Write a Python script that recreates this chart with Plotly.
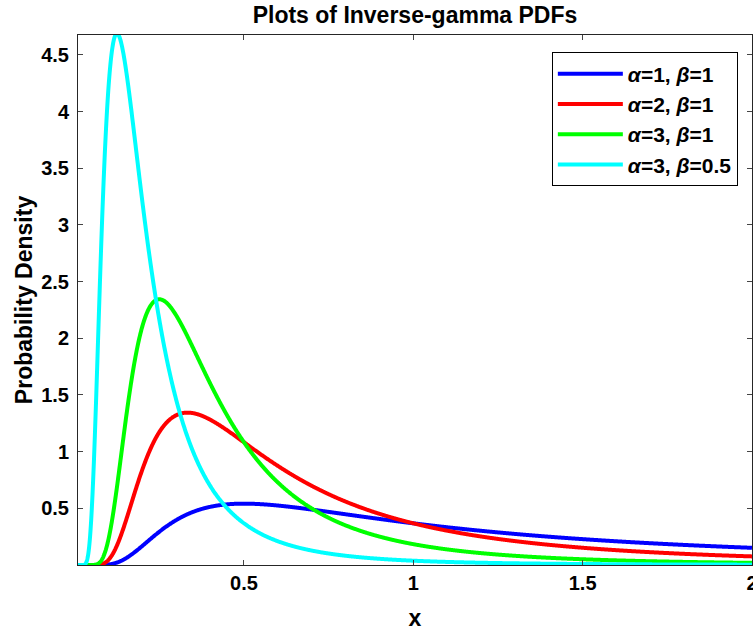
import numpy as np
import plotly.graph_objects as go
from math import gamma

# Parameters of the inverse-gamma distributions (from legend)
alphas = [1, 2, 3, 3]
betas = [1, 1, 1, 0.5]
colors = ["#0000FF", "#FF0000", "#00FF00", "#00FFFF"]
x_ticks = [0.5, 1, 1.5, 2]
y_ticks = [0.5, 1, 1.5, 2, 2.5, 3, 3.5, 4, 4.5]

x = np.linspace(0.01, 2, 2000)

fig = go.Figure()
for i, (a, b, c) in enumerate(zip(alphas, betas, colors)):
    y = (b ** a) / gamma(a) * x ** (-a - 1) * np.exp(-b / x)
    fig.add_trace(go.Scatter(
        x=x, y=y, mode="lines", line=dict(color=c, width=4, simplify=False),
        name=f"<b><i>α</i>={a}, <i>β</i>={b}</b>",
    ))

font = "Liberation Sans, Arial, sans-serif"
fig.update_layout(
    width=753, height=634,
    margin=dict(l=78, r=1, t=35, b=69, autoexpand=False),
    plot_bgcolor="white", paper_bgcolor="white",
    font=dict(family=font, size=20, color="black"),
    title=dict(text="<b>Plots of Inverse-gamma PDFs</b>", x=0.5, xref="paper",
               y=1 - 15 / 634, yanchor="middle", font=dict(size=23)),
    showlegend=True,
    legend=dict(x=0.979, y=0.967, xanchor="right", yanchor="top",
                bordercolor="black", borderwidth=1, bgcolor="white",
                font=dict(size=21, family=font), itemwidth=65),
    xaxis=dict(range=[0.01, 2.0001], tickvals=x_ticks, ticktext=[f"<b>{v:g}</b>" for v in x_ticks],
               ticks="inside", ticklen=5, showline=True, linecolor="#262626", mirror="ticks",
               showgrid=False, zeroline=False, ticklabeloverflow="allow", automargin=False,
               title=dict(text="<b>x</b>", font=dict(size=23), standoff=16)),
    yaxis=dict(range=[0, 4.676], tickvals=y_ticks, ticktext=[f"<b>{v:g}</b>" for v in y_ticks],
               ticks="inside", ticklen=5, showline=True, linecolor="#262626", mirror="ticks",
               showgrid=False, zeroline=False, ticklabelstandoff=4, automargin=False,
               title=dict(text="<b>Probability Density</b>", font=dict(size=23), standoff=2)),
)
fig.write_html("out.html")
